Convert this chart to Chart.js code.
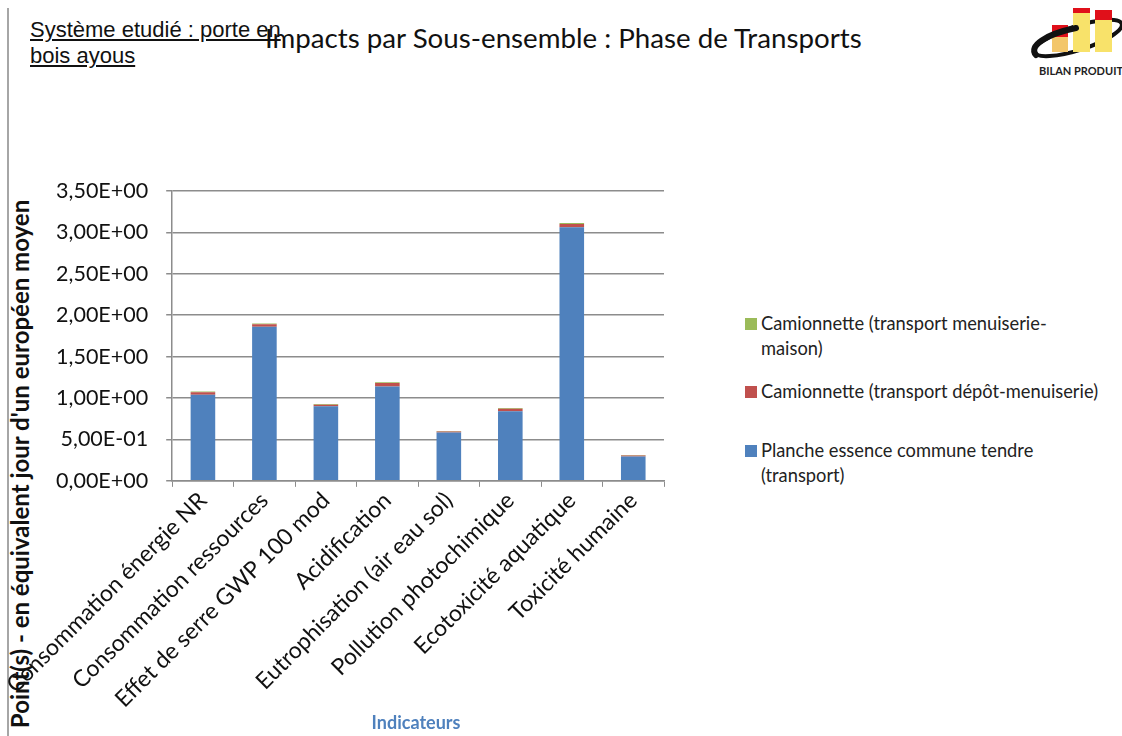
<!DOCTYPE html>
<html>
<head>
    <title>Impacts par Sous-ensemble : Phase de Transports</title>
    <meta charset="utf-8">
    <style>
        body { margin: 0; width: 1122px; height: 736px; position: relative; overflow: hidden; background: #fff; font-family: Lato, "Open Sans", sans-serif; }
        #border { position: absolute; left: 7px; top: 8px; width: 2px; height: 728px; background: #a6a6a6; }
        #system { position: absolute; left: 30px; top: 17px; font-family: "Liberation Sans", Arial, sans-serif; font-size: 22px; line-height: 26px; text-decoration: underline; color: #111; }
        #title { position: absolute; left: 265px; top: 21px; font-size: 27.7px; color: #111; }
        #ytitle { position: absolute; left: 19px; top: 464px; transform: translate(-50%, -50%) rotate(-90deg); white-space: nowrap; font-weight: bold; font-size: 24px; color: #111; }
        #xtitle { position: absolute; left: 416px; top: 722px; transform: translate(-50%, -50%); font-weight: bold; font-size: 18px; color: #4f81bd; }
        #chartBox { position: absolute; left: 0; top: 160px; width: 690px; height: 557px; }
        #legend { position: absolute; left: 745px; top: 311px; font-size: 18.3px; color: #222; }
        .item { display: flex; align-items: flex-start; line-height: 25px; }
        .sw { width: 12px; height: 12px; margin: 7px 4px 0 0; flex: none; }
        #logo { position: absolute; left: 1026px; top: 0px; }
    </style>
    <script src="https://cdn.jsdelivr.net/npm/chart.js"></script>
</head>
<body>
    <div id="border"></div>
    <div id="system">Système etudié : porte en<br>bois ayous</div>
    <div id="title">Impacts par Sous-ensemble : Phase de Transports</div>
    <div id="logo">
        <svg width="96" height="80" viewBox="0 0 96 80">
            <ellipse cx="52" cy="38" rx="46" ry="12" transform="rotate(-18 52 38)" fill="none" stroke="#111" stroke-width="4"/>
            <rect x="26" y="25" width="16" height="27" fill="#f3c66b"/>
            <rect x="26" y="25" width="16" height="12" fill="#e0101a"/>
            <rect x="47" y="8" width="17" height="44" fill="#f8e26a"/>
            <rect x="47" y="8" width="17" height="5" fill="#e0101a"/>
            <rect x="69" y="10" width="17" height="42" fill="#f8e26a"/>
            <rect x="69" y="10" width="17" height="10" fill="#e0101a"/>
            <path d="M 10 55 C 2 46, 20 34, 50 28" fill="none" stroke="#111" stroke-width="6" stroke-linecap="round"/>
            <text x="55" y="75" font-family="Lato, sans-serif" font-weight="bold" font-size="11" text-anchor="middle" fill="#222">BILAN PRODUIT</text>
        </svg>
    </div>
    <div id="ytitle">Point(s) - en équivalent jour d'un européen moyen</div>
    <div id="chartBox"><canvas id="impactChart"></canvas></div>
    <div id="xtitle">Indicateurs</div>
    <div id="legend"></div>

    <script>
        const categories = [
            'Consommation énergie NR',
            'Consommation ressources',
            'Effet de serre GWP 100 mod',
            'Acidification',
            'Eutrophisation (air eau sol)',
            'Pollution photochimique',
            'Ecotoxicité aquatique',
            'Toxicité humaine'
        ];
        const plancheValues = [1.04, 1.86, 0.90, 1.14, 0.585, 0.84, 3.06, 0.295];
        const depotValues = [0.03, 0.03, 0.02, 0.04, 0.01, 0.03, 0.04, 0.01];
        const maisonValues = [0.01, 0.01, 0.008, 0.01, 0.008, 0.008, 0.012, 0.008];
        const seriesNames = [
            'Planche essence commune tendre (transport)',
            'Camionnette (transport dépôt-menuiserie)',
            'Camionnette (transport menuiserie-maison)'
        ];
        const seriesColors = ['#4f81bd', '#c0504d', '#9bbb59'];

        // 0.5 -> "5,00E-01"
        function sciLabel(v) {
            if (Math.abs(v) < 1e-12) return '0,00E+00';
            let e = Math.floor(Math.log10(Math.abs(v)) + 1e-9);
            let m = (v / Math.pow(10, e)).toFixed(2).replace('.', ',');
            let sign = e < 0 ? '-' : '+';
            return m + 'E' + sign + String(Math.abs(e)).padStart(2, '0');
        }

        const ctx = document.getElementById('impactChart').getContext('2d');
        const chart = new Chart(ctx, {
            type: 'bar',
            data: {
                labels: categories,
                datasets: [
                    { label: seriesNames[0], data: plancheValues, backgroundColor: seriesColors[0] },
                    { label: seriesNames[1], data: depotValues, backgroundColor: seriesColors[1] },
                    { label: seriesNames[2], data: maisonValues, backgroundColor: seriesColors[2] }
                ]
            },
            options: {
                responsive: true,
                maintainAspectRatio: false,
                animation: false,
                layout: { padding: { left: 38, right: 26, top: 14, bottom: 4 } },
                datasets: { bar: { categoryPercentage: 1, barPercentage: 0.4 } },
                plugins: {
                    legend: { display: false },
                    tooltip: { enabled: false }
                },
                scales: {
                    x: {
                        stacked: true,
                        grid: { offset: true, drawOnChartArea: false, color: '#8c8c8c', tickLength: 6 },
                        border: { color: '#8c8c8c', width: 1.5 },
                        ticks: {
                            color: '#111', minRotation: 45, maxRotation: 45, padding: 0,
                            font: { family: 'Lato', size: 23 }
                        }
                    },
                    y: {
                        stacked: true,
                        min: 0,
                        max: 3.5,
                        ticks: {
                            stepSize: 0.5, color: '#111', padding: 18,
                            font: { family: 'Lato', size: 21.5 },
                            callback: v => sciLabel(v)
                        },
                        grid: { color: '#8c8c8c', lineWidth: 1.5, tickLength: 6 },
                        border: { color: '#8c8c8c', width: 1.5 }
                    }
                }
            }
        });

        // legend, listed in reverse stacking order as in the original
        const legend = document.getElementById('legend');
        const gaps = [0, 18, 34];
        const widths = [340, 400, 320];
        chart.data.datasets.slice().reverse().forEach((ds, i) => {
            const item = document.createElement('div');
            item.className = 'item';
            item.style.marginTop = gaps[i] + 'px';
            item.style.width = widths[i] + 'px';
            const sw = document.createElement('span');
            sw.className = 'sw';
            sw.style.background = ds.backgroundColor;
            const txt = document.createElement('span');
            txt.textContent = ds.label;
            item.appendChild(sw);
            item.appendChild(txt);
            legend.appendChild(item);
        });
    </script>
</body>
</html>
